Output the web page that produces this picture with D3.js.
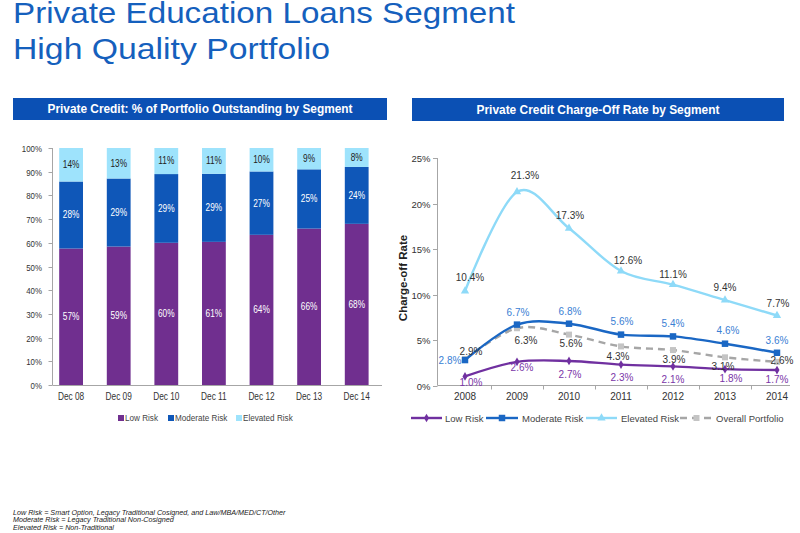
<!DOCTYPE html>
<html><head><meta charset="utf-8">
<script src="https://cdn.jsdelivr.net/npm/d3@7"></script>
<style>body{margin:0;background:#fff;} svg text{font-family:"Liberation Sans",Arial,sans-serif;}</style>
</head><body><svg id="c" width="800" height="533"></svg>
<script>
// ---------- data ----------
const shareCats = ["Dec 08","Dec 09","Dec 10","Dec 11","Dec 12","Dec 13","Dec 14"];
const lowShare  = [57,59,60,61,64,66,68];
const modShare  = [28,29,29,29,27,25,24];
const elevShare = [14,13,11,11,10,9,8];
const shareTicks = [0,10,20,30,40,50,60,70,80,90,100];

const rateYears  = ["2008","2009","2010","2011","2012","2013","2014"];
const lowRate    = [1.0,2.6,2.7,2.3,2.1,1.8,1.7];
const modRate    = [2.8,6.7,6.8,5.6,5.4,4.6,3.6];
const elevRate   = [10.4,21.3,17.3,12.6,11.1,9.4,7.7];
const overallRate= [2.9,6.3,5.6,4.3,3.9,3.1,2.6];
const rateTicks  = [0,5,10,15,20,25];

const segNames = ["Low Risk","Moderate Risk","Elevated Risk"];
const footnotes = [
  "Low Risk = Smart Option, Legacy Traditional Cosigned, and Law/MBA/MED/CT/Other",
  "Moderate Risk = Legacy Traditional Non-Cosigned",
  "Elevated Risk = Non-Traditional"
];

// ---------- styles ----------
const C = {title:"#1560bd", header:"#0b50b4", low:"#702f8f", mod:"#0f57b8", elev:"#9ee3fc",
  lowLine:"#7030a0", modLine:"#1a67c4", elevLine:"#8edaf8", overall:"#a6a6a6",
  axis:"#a6a6a6", text:"#333"};
const SX = 0.83; // horizontally compressed text in left panel

const svg = d3.select("#c");

// ---------- title ----------
svg.append("text").attr("x",13).attr("y",23).attr("font-size",29).attr("fill",C.title)
  .attr("textLength",502).attr("lengthAdjust","spacingAndGlyphs")
  .text("Private Education Loans Segment");
svg.append("text").attr("x",13).attr("y",59).attr("font-size",29).attr("fill",C.title)
  .attr("textLength",317).attr("lengthAdjust","spacingAndGlyphs")
  .text("High Quality Portfolio");

// ---------- headers ----------
function header(x0,x1,y0,y1,label,len){
  svg.append("rect").attr("x",x0).attr("y",y0).attr("width",x1-x0).attr("height",y1-y0).attr("fill",C.header);
  svg.append("text").attr("x",(x0+x1)/2).attr("y",(y0+y1)/2+4.3).attr("text-anchor","middle")
    .attr("font-size",12).attr("font-weight","bold").attr("fill","#fff")
    .attr("textLength",len).attr("lengthAdjust","spacingAndGlyphs").text(label);
}
header(13,387,98,120,"Private Credit: % of Portfolio Outstanding by Segment",305);
header(412,784,98,121,"Private Credit Charge-Off Rate by Segment",243);

// ---------- left: stacked % bars ----------
function ctext(g,x,y,str,size,fill,anchor){
  return g.append("text").attr("transform",`translate(${x},${y}) scale(${SX},1)`)
    .attr("font-size",size).attr("fill",fill).attr("text-anchor",anchor||"middle").text(str);
}
const L = svg.append("g");
const table = shareCats.map((c,i)=>({cat:c, low:lowShare[i], mod:modShare[i], elev:elevShare[i]}));
const keys = ["low","mod","elev"];
const stack = d3.stack().keys(keys).offset(d3.stackOffsetExpand)(table);
const xL = d3.scaleBand().domain(shareCats).range([47.3,380.5]).paddingInner(0.5).paddingOuter(0.25);
const yL = d3.scaleLinear().domain([0,1]).range([385,148]);
const fillL = {low:C.low, mod:C.mod, elev:C.elev};
const labFill = {low:"#fff", mod:"#fff", elev:"#222"};

stack.forEach(layer=>{
  const k = layer.key;
  L.selectAll(null).data(layer).join("rect")
    .attr("x",d=>xL(d.data.cat)).attr("width",xL.bandwidth())
    .attr("y",d=>yL(d[1])).attr("height",d=>yL(d[0])-yL(d[1]))
    .attr("fill",fillL[k]);
  layer.forEach(d=>{
    ctext(L, xL(d.data.cat)+xL.bandwidth()/2, (yL(d[0])+yL(d[1]))/2+3.4, d.data[k]+"%", 10, labFill[k]);
  });
});
// axes
L.append("line").attr("x1",52.5).attr("x2",52.5).attr("y1",148).attr("y2",385).attr("stroke",C.axis);
L.append("line").attr("x1",52.5).attr("x2",382).attr("y1",385.5).attr("y2",385.5).attr("stroke",C.axis);
shareTicks.forEach(t=>{
  const y = Math.round(yL(t/100))+0.5;
  L.append("line").attr("x1",48.5).attr("x2",52.5).attr("y1",y).attr("y2",y).attr("stroke",C.axis);
  ctext(L,42,y+3,t+"%",9.5,C.text,"end");
});
shareCats.forEach(c=>ctext(L,xL(c)+xL.bandwidth()/2,400,c,10,C.text));
// legend left
const legL = [{k:"low",x:118},{k:"mod",x:168},{k:"elev",x:236}];
legL.forEach((d,i)=>{
  L.append("rect").attr("x",d.x).attr("y",415).attr("width",6).attr("height",6).attr("fill",fillL[d.k]);
  ctext(L,d.x+7,421,segNames[i],9.8,"#444","start");
});

// ---------- right: charge-off lines ----------
const R = svg.append("g");
const xR = d3.scalePoint().domain(rateYears).range([465,777]);
const yR = d3.scaleLinear().domain([0,25]).range([385.5,158.3]);
R.append("line").attr("x1",437.5).attr("x2",437.5).attr("y1",158).attr("y2",385.5).attr("stroke",C.axis);
R.append("line").attr("x1",437.5).attr("x2",790).attr("y1",385.5).attr("y2",385.5).attr("stroke",C.axis);
rateTicks.forEach(t=>{
  const y = Math.round(yR(t))+0.5;
  R.append("line").attr("x1",433).attr("x2",437.5).attr("y1",y).attr("y2",y).attr("stroke",C.axis);
  R.append("text").attr("x",430.5).attr("y",y+3.3).attr("text-anchor","end").attr("font-size",9.5)
    .attr("fill",C.text).text(t+"%");
});
rateYears.forEach((yr,i)=>{
  R.append("text").attr("x",xR(yr)).attr("y",400).attr("text-anchor","middle").attr("font-size",10)
    .attr("fill",C.text).text(yr);
  if(i>0){ const bx = Math.round((xR(rateYears[i-1])+xR(yr))/2)+0.5;
    R.append("line").attr("x1",bx).attr("x2",bx).attr("y1",385.5).attr("y2",389.5).attr("stroke",C.axis);}
});
R.append("text").attr("transform","translate(407,278) rotate(-90)").attr("text-anchor","middle")
  .attr("font-size",11.5).attr("font-weight","bold").attr("fill","#222").text("Charge-off Rate");

const series = [
  {name:"Overall Portfolio", vals:overallRate, color:C.overall, dash:"7,5", sym:d3.symbolSquare, size:36, mfill:"#c4c4c4",
   lab:"#333", off:[[6,-8],[9,12],[2,9],[-3,10],[1,9],[-2,9],[5,-1]]},
  {name:"Elevated Risk", vals:elevRate, color:C.elevLine, dash:null, sym:d3.symbolTriangle, size:30, mfill:C.elevLine,
   lab:"#333", off:[[5,-14],[8,-17],[1,-12.5],[7,-11],[0,-10],[0,-13],[1,-12.5]]},
  {name:"Moderate Risk", vals:modRate, color:C.modLine, dash:null, sym:d3.symbolSquare, size:42, mfill:C.modLine,
   lab:"#3a80d4", off:[[-15,0],[1,-12],[1,-12],[1,-13],[0,-13],[3,-13],[0,-12.5]]},
  {name:"Low Risk", vals:lowRate, color:C.lowLine, dash:null, sym:d3.symbolDiamond, size:22, mfill:C.lowLine,
   lab:"#7a35a8", off:[[6,6],[5,6],[1,13],[1,13],[0,13],[6,9],[0,9]]}
];
const line = d3.line().x((d,i)=>xR(rateYears[i])).y(d=>yR(d)).curve(d3.curveCardinal.tension(0));
series.forEach(s=>{
  R.append("path").attr("d",line(s.vals)).attr("fill","none").attr("stroke",s.color)
    .attr("stroke-width",2.4).attr("stroke-dasharray",s.dash);
  s.vals.forEach((v,i)=>{
    R.append("path").attr("d",d3.symbol(s.sym,s.size)())
      .attr("transform",`translate(${xR(rateYears[i])},${yR(v)})`).attr("fill",s.mfill);
  });
});
series.forEach(s=>{
  s.vals.forEach((v,i)=>{
    R.append("text").attr("x",xR(rateYears[i])+s.off[i][0]).attr("y",yR(v)+s.off[i][1]+3.6)
      .attr("text-anchor","middle").attr("font-size",10).attr("fill",s.lab).text(v.toFixed(1)+"%");
  });
});
// legend right
const legR = [
  {s:series[3], x0:411, x1:442, tx:445},
  {s:series[2], x0:486, x1:518, tx:522},
  {s:series[1], x0:586, x1:617, tx:621},
  {s:series[0], x0:680, x1:713, tx:716}
];
legR.forEach(d=>{
  R.append("line").attr("x1",d.x0).attr("x2",d.x1).attr("y1",418).attr("y2",418)
    .attr("stroke",d.s.color).attr("stroke-width",2.4).attr("stroke-dasharray",d.s.dash);
  R.append("path").attr("d",d3.symbol(d.s.sym,d.s.size)())
    .attr("transform",`translate(${(d.x0+d.x1)/2},418)`).attr("fill",d.s.mfill);
  R.append("text").attr("x",d.tx).attr("y",421.5).attr("font-size",9.5).attr("fill","#444").text(d.s.name);
});

// ---------- footnotes ----------
footnotes.forEach((f,i)=>{
  svg.append("text").attr("x",13).attr("y",514.5+i*7.5).attr("font-size",7.2)
    .attr("font-style","italic").attr("fill","#222").text(f);
});
</script></body></html>
